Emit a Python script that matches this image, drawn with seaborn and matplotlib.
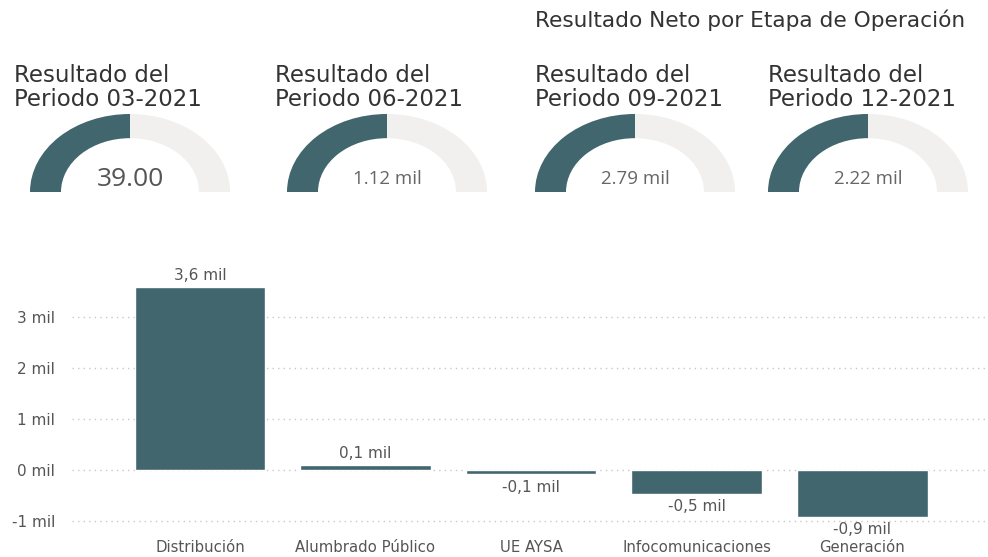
import numpy as np
import pandas as pd
import matplotlib
matplotlib.use("Agg")
import matplotlib.pyplot as plt
from matplotlib.patches import Wedge
import seaborn as sns

# datos
periodos = ["03-2021", "06-2021", "09-2021", "12-2021"]
resultado_periodo = [39.00, 1120, 2790, 2220]
etiqueta_periodo = ["39.00", "1.12 mil", "2.79 mil", "2.22 mil"]

etapas = ["Distribución", "Alumbrado Público", "UE AYSA", "Infocomunicaciones", "Generación"]
resultado_neto = [3590, 90, -90, -470, -920]

teal = "#41666e"
gris_claro = "#f1f0ef"
texto = "#555555"

sns.set_theme(style="white")
plt.rcParams["font.family"] = ["DejaVu Sans"]

W, H = 988, 557
fig = plt.figure(figsize=(W / 100, H / 100), dpi=100)

def px_axes(x0, y0, x1, y1):
    # rectangulo en pixeles (origen arriba a la izquierda)
    return fig.add_axes([x0 / W, 1 - y1 / H, (x1 - x0) / W, (y1 - y0) / H])

# titulo principal
fig.text(535 / W, 1 - 20 / H, "Resultado Neto por Etapa de Operación",
         ha="left", va="center", fontsize=15.6, color="#333333")

# gauges
gauge_x = [30, 287, 535, 768]
title_x = [14, 275, 535, 768]
for i, (per, val, lab) in enumerate(zip(periodos, resultado_periodo, etiqueta_periodo)):
    fig.text(title_x[i] / W, 1 - 76 / H, "Resultado del", ha="left", va="center",
             fontsize=16.5, color="#333333")
    fig.text(title_x[i] / W, 1 - 100 / H, "Periodo " + per, ha="left", va="center",
             fontsize=16.5, color="#333333")
    gx = px_axes(gauge_x[i], 114, gauge_x[i] + 200, 192)
    gx.set_xlim(-1, 1)
    gx.set_ylim(0, 1)
    gx.axis("off")
    maximo = 2 * val  # maximo por defecto del gauge
    frac = val / maximo
    ang = 180 - 180 * frac
    gx.add_patch(Wedge((0, 0), 1, 0, ang, width=0.31, color=gris_claro, lw=0))
    gx.add_patch(Wedge((0, 0), 1, ang, 180, width=0.31, color=teal, lw=0))
    if i == 0:
        gx.text(0, 0.16, lab, ha="center", va="center", fontsize=19,
                color="#555555", family="Open Sans")
    else:
        gx.text(0, 0.17, lab, ha="center", va="center", fontsize=13.5,
                color="#666666", family="Open Sans")

# barras
df = pd.DataFrame({"etapa": etapas, "valor": np.array(resultado_neto) / 1000})
ax = px_axes(72, 275, 988, 530)
ax.set_axisbelow(True)
for t in [-1, 0, 1, 2, 3]:
    ax.axhline(t, color="#c8c8c8", lw=1, ls=(0, (1, 3)), zorder=0)
sns.barplot(data=df, x="etapa", y="valor", color=teal, width=0.79,
            saturation=1, ax=ax, zorder=2)
ax.set_xlim(-0.773, 4.76)
ax.set_ylim(-1.18, 3.82)
ax.set_yticks([-1, 0, 1, 2, 3])
ax.set_yticklabels([f"{t} mil" for t in [-1, 0, 1, 2, 3]], fontsize=11, color=texto)
ax.tick_params(axis="y", length=0, pad=12)
ax.tick_params(axis="x", length=0, pad=7)
for lbl in ax.get_xticklabels():
    lbl.set_fontsize(10.7)
    lbl.set_color(texto)
ax.set_xlabel("")
ax.set_ylabel("")
sns.despine(ax=ax, left=True, bottom=True)

for i, v in enumerate(df["valor"]):
    s = f"{v:.1f} mil".replace(".", ",")
    if v >= 0:
        ax.annotate(s, (i, v), xytext=(0, 3), textcoords="offset points",
                    ha="center", va="bottom", fontsize=11, color=texto)
    else:
        ax.annotate(s, (i, v), xytext=(0, -4), textcoords="offset points",
                    ha="center", va="top", fontsize=11, color=texto)

fig.savefig("out.png", dpi=100)
